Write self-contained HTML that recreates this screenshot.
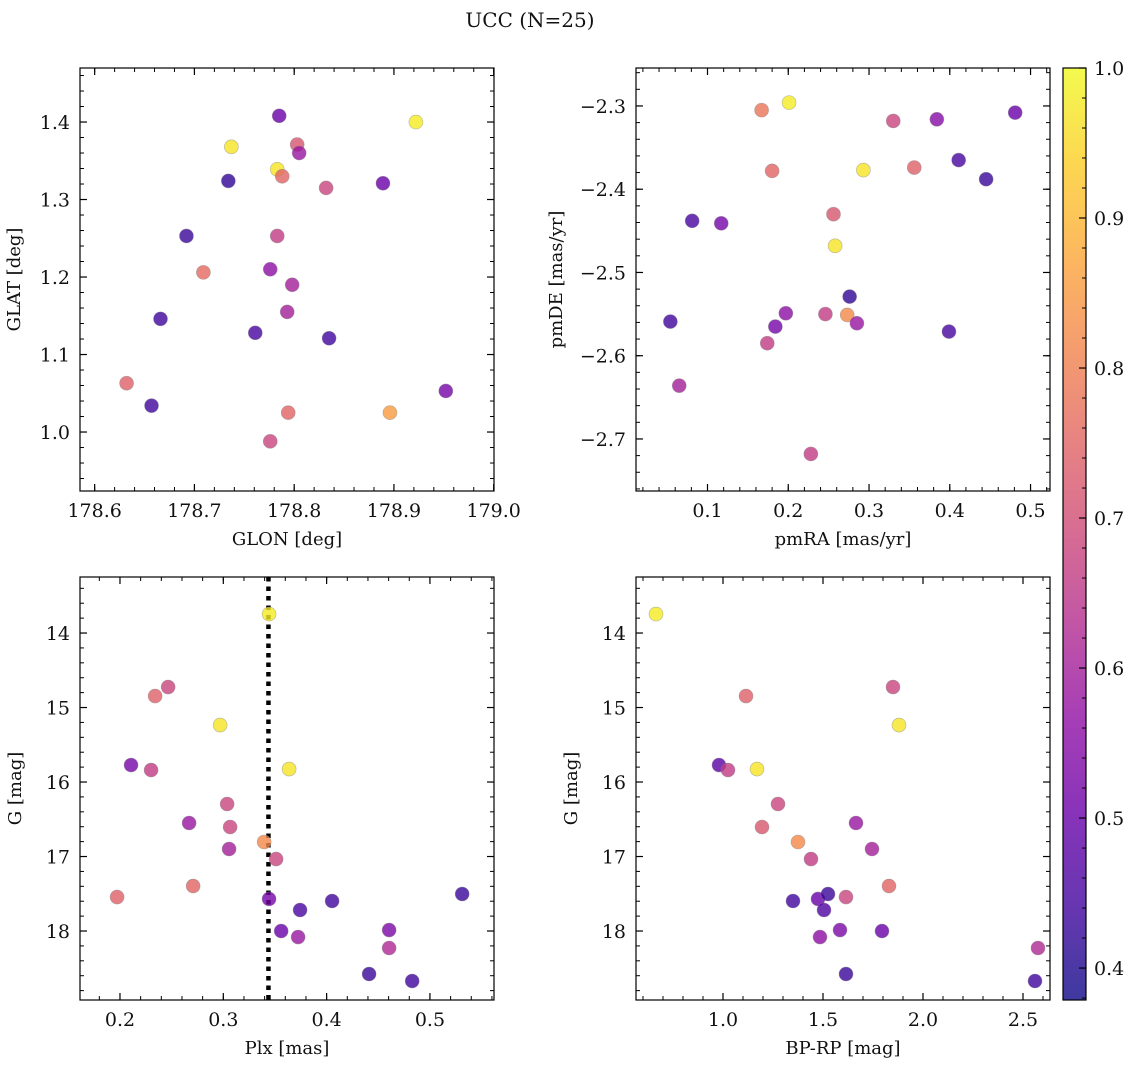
<!DOCTYPE html>
<html><head><meta charset="utf-8">
<style>
html,body{margin:0;padding:0;background:#fff;}
svg text{font-family:"DejaVu Serif","Liberation Serif",serif;fill:#111;}
</style></head>
<body>
<svg id="fig" width="1136" height="1067" viewBox="0 0 1136 1067" xmlns="http://www.w3.org/2000/svg">
<defs>
<linearGradient id="cbgrad" x1="0" y1="1" x2="0" y2="0"></linearGradient>
</defs>
<text x="530" y="27" font-size="20" text-anchor="middle">UCC (N=25)</text>
</svg>
<script>
// ---- data ----
const tlGlon = [178.785,178.922,178.737,178.803,178.805,178.783,178.788,178.734,178.889,178.832,178.692,178.783,178.709,178.776,178.798,178.793,178.666,178.761,178.835,178.632,178.657,178.952,178.794,178.896,178.776];
const tlGlat = [1.408,1.400,1.368,1.371,1.360,1.339,1.330,1.324,1.321,1.315,1.253,1.253,1.206,1.210,1.190,1.155,1.146,1.128,1.121,1.063,1.034,1.053,1.025,1.025,0.988];
const tlProb = [0.50,0.98,0.97,0.72,0.58,0.97,0.75,0.42,0.50,0.68,0.43,0.66,0.76,0.56,0.60,0.60,0.44,0.45,0.44,0.74,0.44,0.52,0.75,0.85,0.68];

const trPmra = [0.201,0.167,0.330,0.384,0.481,0.411,0.445,0.180,0.293,0.356,0.256,0.081,0.117,0.258,0.276,0.273,0.246,0.197,0.285,0.184,0.054,0.399,0.174,0.065,0.228];
const trPmde = [-2.296,-2.305,-2.318,-2.316,-2.308,-2.365,-2.388,-2.378,-2.377,-2.374,-2.430,-2.438,-2.441,-2.468,-2.529,-2.551,-2.550,-2.549,-2.561,-2.565,-2.559,-2.571,-2.585,-2.636,-2.718];
const trProb = [0.98,0.78,0.68,0.55,0.50,0.45,0.43,0.75,0.97,0.74,0.72,0.45,0.52,0.97,0.42,0.82,0.66,0.56,0.58,0.52,0.44,0.45,0.66,0.60,0.66];

const blPlx = [0.3443,0.2466,0.234,0.2969,0.3637,0.2107,0.2301,0.3037,0.3066,0.2669,0.3056,0.3395,0.3511,0.2708,0.1972,0.3443,0.4053,0.5312,0.3743,0.356,0.3724,0.4605,0.4605,0.4411,0.4828];
const blG = [13.745,14.725,14.846,15.235,15.826,15.772,15.839,16.295,16.604,16.55,16.899,16.805,17.034,17.396,17.544,17.57,17.597,17.503,17.718,18.0,18.081,17.987,18.228,18.577,18.671];
const blProb = [0.98,0.68,0.74,0.97,0.97,0.52,0.66,0.68,0.68,0.58,0.60,0.82,0.68,0.75,0.74,0.52,0.44,0.43,0.45,0.50,0.58,0.53,0.62,0.43,0.44];
const plxLine = [0.3437];

const brBprp = [0.665,1.115,1.85,1.88,0.98,1.025,1.17,1.275,1.195,1.665,1.375,1.745,1.44,1.83,1.615,1.35,1.475,1.525,1.505,1.485,1.585,1.795,2.575,1.615,2.56];
const brG = [13.745,14.846,14.725,15.235,15.772,15.839,15.826,16.295,16.604,16.55,16.805,16.899,17.034,17.396,17.544,17.597,17.57,17.503,17.718,18.081,17.987,18.0,18.228,18.577,18.671];
const brProb = [0.98,0.74,0.68,0.97,0.48,0.66,0.97,0.68,0.72,0.58,0.82,0.60,0.66,0.75,0.68,0.44,0.50,0.43,0.46,0.56,0.53,0.50,0.62,0.43,0.44];

const tlXTicks = ["178.6","178.7","178.8","178.9","179.0"];
const tlYTicks = ["1.0","1.1","1.2","1.3","1.4"];
const trXTicks = ["0.1","0.2","0.3","0.4","0.5"];
const trYTicks = ["-2.7","-2.6","-2.5","-2.4","-2.3"];
const blXTicks = ["0.2","0.3","0.4","0.5"];
const gTicks = ["14","15","16","17","18"];
const brXTicks = ["1.0","1.5","2.0","2.5"];
const cbTicks = ["0.4","0.5","0.6","0.7","0.8","0.9","1.0"];

const CMIN = 0.3787, CMAX = 1.0;
const plasma = ["#0d0887","#41049d","#6a00a8","#8f0da4","#b12a90","#cc4778","#e16462","#f2844b","#fca636","#fcce25","#f0f921"];

const NS = "http://www.w3.org/2000/svg";
const svg = document.getElementById('fig');
function mk(tag, attrs, parent){ const e=document.createElementNS(NS,tag); for(const k in attrs) e.setAttribute(k,attrs[k]); (parent||svg).appendChild(e); return e; }
function hex2rgb(h){return [parseInt(h.slice(1,3),16),parseInt(h.slice(3,5),16),parseInt(h.slice(5,7),16)];}
function cmap(t){ t=Math.max(0,Math.min(1,t)); const f=t*10, i=Math.min(9,Math.floor(f)), r=f-i; const a=hex2rgb(plasma[i]), b=hex2rgb(plasma[i+1]); const c=a.map((v,k)=>Math.round(v+(b[k]-v)*r)); return `rgb(${c[0]},${c[1]},${c[2]})`; }
function colorOf(v){ return cmap((v-CMIN)/(CMAX-CMIN)); }

function panel(o){
  const g = mk('g',{});
  
  
  const L=o.box[0], T=o.box[1], R=o.box[2], B=o.box[3];
  const sx = v => L + (v-o.xr[0])/(o.xr[1]-o.xr[0])*(R-L);
  const sy = v => o.yinv ? T + (v-o.yr[0])/(o.yr[1]-o.yr[0])*(B-T) : B - (v-o.yr[0])/(o.yr[1]-o.yr[0])*(B-T);
  for(let v=Math.ceil(o.xr[0]/o.xmin-1e-6)*o.xmin; v<=o.xr[1]+1e-9; v+=o.xmin){ const x=sx(v); mk('line',{x1:x,x2:x,y1:B,y2:B-4,stroke:'#000','stroke-width':1},g); mk('line',{x1:x,x2:x,y1:T,y2:T+4,stroke:'#000','stroke-width':1},g); }
  for(let v=Math.ceil(Math.min(o.yr[0],o.yr[1])/o.ymin-1e-6)*o.ymin; v<=Math.max(o.yr[0],o.yr[1])+1e-9; v+=o.ymin){ const y=sy(v); mk('line',{x1:L,x2:L+4,y1:y,y2:y,stroke:'#000','stroke-width':1},g); mk('line',{x1:R,x2:R-4,y1:y,y2:y,stroke:'#000','stroke-width':1},g); }
  o.xt.forEach(s=>{ const x=sx(parseFloat(s)); mk('line',{x1:x,x2:x,y1:B,y2:B-7,stroke:'#000','stroke-width':1.2},g); mk('line',{x1:x,x2:x,y1:T,y2:T+7,stroke:'#000','stroke-width':1.2},g);
    const t=mk('text',{x:x,y:B+26,'font-size':19,'text-anchor':'middle'},g); t.textContent=s.replace('-','\u2212');
      });
  o.yt.forEach(s=>{ const y=sy(parseFloat(s)); mk('line',{x1:L,x2:L+7,y1:y,y2:y,stroke:'#000','stroke-width':1.2},g); mk('line',{x1:R,x2:R-7,y1:y,y2:y,stroke:'#000','stroke-width':1.2},g);
    const t=mk('text',{x:L-10,y:y+7,'font-size':19,'text-anchor':'end'},g); t.textContent=s.replace('-','\u2212');
      });
  if(o.vline){ o.vline.forEach(v=>{ const x=sx(v); const ln=mk('line',{x1:x,x2:x,y1:T,y2:B,stroke:'#000','stroke-width':4.5,'stroke-dasharray':'4.5 5'},g);
      }); }
  o.xs.forEach((xv,i)=>{ const c=mk('circle',{cx:sx(xv),cy:sy(o.ys[i]),r:7,fill:colorOf(o.cs[i]),'fill-opacity':0.8,stroke:'#888','stroke-opacity':0.6,'stroke-width':0.6},g);
      });
  const fr=mk('rect',{x:L,y:T,width:R-L,height:B-T,fill:'none',stroke:'#000','stroke-width':1.2},g);
   
  const xl=mk('text',{x:(L+R)/2,y:B+54,'font-size':18,'text-anchor':'middle'},g); xl.textContent=o.xlab;
   
  const ylx=L-o.ylOff, yly=(T+B)/2;
  const yl=mk('text',{x:ylx,y:yly,'font-size':18,'text-anchor':'middle',transform:`rotate(-90 ${ylx} ${yly})`},g); yl.textContent=o.ylab;
   
}

panel({name:'glon-glat-panel',box:[80,68,494,491],xr:[178.5853,179.0003],yr:[0.9239,1.4697],xmin:0.02,ymin:0.02,xt:tlXTicks,yt:tlYTicks,xs:tlGlon,ys:tlGlat,cs:tlProb,xlab:'GLON [deg]',ylab:'GLAT [deg]',ylOff:60});
panel({name:'pm-panel',box:[636,68,1050,491],xr:[0.01146,0.5241],yr:[-2.7625,-2.2544],xmin:0.02,ymin:0.02,xt:trXTicks,yt:trYTicks,xs:trPmra,ys:trPmde,cs:trProb,xlab:'pmRA [mas/yr]',ylab:'pmDE [mas/yr]',ylOff:74});
panel({name:'plx-g-panel',box:[80,577,494,1000],xr:[0.1613,0.562],yr:[13.248,18.926],yinv:true,xmin:0.02,ymin:0.2,xt:blXTicks,yt:gTicks,xs:blPlx,ys:blG,cs:blProb,xlab:'Plx [mas]',ylab:'G [mag]',ylOff:59,vline:plxLine});
panel({name:'cmd-panel',box:[636,577,1050,1000],xr:[0.565,2.635],yr:[13.248,18.926],yinv:true,xmin:0.1,ymin:0.2,xt:brXTicks,yt:gTicks,xs:brBprp,ys:brG,cs:brProb,xlab:'BP-RP [mag]',ylab:'G [mag]',ylOff:59});

const grad=document.getElementById('cbgrad');
for(let i=0;i<=20;i++){ const v=CMIN+(CMAX-CMIN)*i/20; mk('stop',{offset:(i/20),'stop-color':colorOf(v),'stop-opacity':0.8},grad); }
const cb=mk('g',{});
 
const CL=1063, CR=1086, CT=68, CB=1000;
const cy = v => CB - (v-CMIN)/(CMAX-CMIN)*(CB-CT);
mk('rect',{x:CL,y:CT,width:CR-CL,height:CB-CT,fill:'url(#cbgrad)'},cb);
for(let v=0.38; v<=1.0001; v+=0.02){ const y=cy(v); mk('line',{x1:CR,x2:CR-4,y1:y,y2:y,stroke:'#000','stroke-width':1},cb); }
cbTicks.forEach(s=>{ const y=cy(parseFloat(s)); mk('line',{x1:CR,x2:CR-7,y1:y,y2:y,stroke:'#000','stroke-width':1.2},cb);
  const t=mk('text',{x:CR+8,y:y+7,'font-size':19},cb); t.textContent=s;
    });
mk('rect',{x:CL,y:CT,width:CR-CL,height:CB-CT,fill:'none',stroke:'#000','stroke-width':1.2},cb);
</script>
</body></html>
